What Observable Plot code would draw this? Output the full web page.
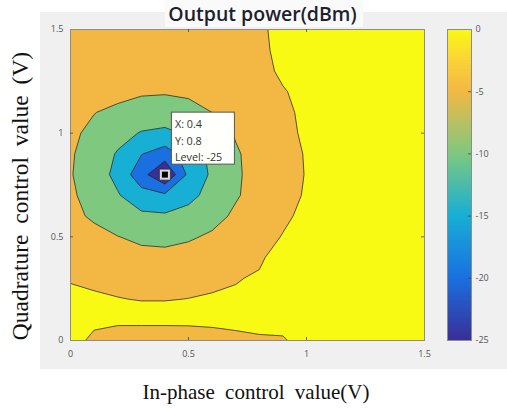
<!DOCTYPE html>
<html>
<head>
<meta charset="utf-8">
<script src="https://cdn.jsdelivr.net/npm/d3@7"></script>
<script src="https://cdn.jsdelivr.net/npm/@observablehq/plot@0.6"></script>
<style>
  html, body { margin: 0; padding: 0; background: #ffffff; }
  #fig { position: relative; width: 507px; height: 408px; overflow: hidden; background: #ffffff; }
  #bg { position: absolute; left: 40px; top: 12px; width: 467px; height: 357px; background: #f0f0f0; }
  #titlebox { position: absolute; left: 165px; top: 0px; width: 198px; height: 27px; background: #fafafa; }
  #title { position: absolute; left: 0; top: 0px; width: 525px; text-align: center; font-family: "Open Sans", sans-serif; font-weight: 600; font-size: 19.5px; color: #1d1f2e; }
  #xlabel { position: absolute; left: 0; top: 380px; width: 512px; text-align: center; font-family: "Liberation Serif", "Times New Roman", serif; font-size: 21px; word-spacing: 5px; color: #111; }
  #ylabel { position: absolute; left: 20px; top: 196px; transform: translate(-50%, -50%) rotate(-90deg); white-space: nowrap; font-family: "Liberation Serif", "Times New Roman", serif; font-size: 23.5px; word-spacing: 5px; color: #111; }
  #main, #cbar { position: absolute; top: 0; }
  #main { left: 0; }
  #cbar { left: 437px; }
</style>
</head>
<body>
<div id="fig">
  <div id="bg"></div>
  <div id="titlebox"></div>
  <div id="title">Output power(dBm)</div>
  <div id="main"></div>
  <div id="cbar"></div>
  <div id="xlabel">In-phase control value(V)</div>
  <div id="ylabel">Quadrature control value (V)</div>
</div>
<script>
// Grid coordinates (V): 0, 0.1, ..., 1.5 on both axes
const xs = [0, 0.1, 0.2, 0.3, 0.4, 0.5, 0.6, 0.7, 0.8, 0.9, 1.0, 1.1, 1.2, 1.3, 1.4, 1.5];
const ys = [0, 0.1, 0.2, 0.3, 0.4, 0.5, 0.6, 0.7, 0.8, 0.9, 1.0, 1.1, 1.2, 1.3, 1.4, 1.5];

// Output power (dBm), one row per quadrature value (bottom row first), columns = in-phase values
const power = [
  /* y=0.0 */ [ 1.2, -0.7, -1.8, -1.8, -1.8, -1.7, -1.2, -0.65, -0.29, -0.2, 0.8, 1, 1, 1, 1, 1],
  /* y=0.1 */ [ 0.7,  0.7,  0.7,  0.7,  0.7,  0.7,  0.7,  0.7,  0.7,  0.7, 1, 1, 1, 1, 1, 1],
  /* y=0.2 */ [ 0.3,  0.2,  0.05, -0.07, -0.07, 0.02, 0.15, 0.3, 0.5, 0.6, 1, 1, 1, 1, 1, 1],
  /* y=0.3 */ [-0.1, -0.3, -0.45, -0.6, -0.65, -0.55, -0.35, -0.13, 0.24, 0.6, 1, 1, 1, 1, 1, 1],
  /* y=0.4 */ [-1.0, -2.2, -3.1, -3.7, -3.8, -3.4, -2.7, -1.6, -0.33, 1, 1, 1, 1, 1, 1, 1],
  /* y=0.5 */ [-2.4, -3.8, -4.9, -5.9, -6.2, -5.5, -4.4, -3.1, -1.6, 0.2, 1, 1, 1, 1, 1, 1],
  /* y=0.6 */ [-4.0, -5.6, -7.4, -9.0, -9.3, -8.3, -6.4, -4.3, -2.6, -0.76, 1, 1, 1, 1, 1, 1],
  /* y=0.7 */ [-4.3, -6.8, -9.6, -13.1, -14.1, -11.4, -8.3, -5.4, -3.4, -1.5, 0.42, 1, 1, 1, 1, 1],
  /* y=0.8 */ [-4.7, -7.6, -11.3, -18.1, -25, -13.9, -9.2, -5.5, -3.7, -1.7, 0.2, 1, 1, 1, 1, 1],
  /* y=0.9 */ [-4.5, -7.3, -10.4, -14.8, -17.4, -12.8, -8.8, -5.4, -3.6, -1.6, 0.3, 1, 1, 1, 1, 1],
  /* y=1.0 */ [-4.3, -5.9, -8.4, -10.3, -11.0, -9.4, -7.2, -4.7, -3.0, -1.2, 0.7, 1, 1, 1, 1, 1],
  /* y=1.1 */ [-3.3, -4.9, -5.9, -7.2, -7.4, -6.6, -5.0, -3.6, -2.1, -0.6, 0.6, 1, 1, 1, 1, 1],
  /* y=1.2 */ [-2.0, -2.8, -3.8, -4.4, -4.6, -4.2, -3.4, -2.2, -1.6, -0.2, 0.8, 1, 1, 1, 1, 1],
  /* y=1.3 */ [-2.5, -2.6, -2.8, -3.0, -3.0, -2.8, -2.3, -1.7, -0.9, 0.5, 1, 1, 1, 1, 1, 1],
  /* y=1.4 */ [-2.3, -2.3, -2.4, -2.5, -2.5, -2.4, -2.0, -1.5, -0.5, 0.6, 1, 1, 1, 1, 1, 1],
  /* y=1.5 */ [-2.2, -2.2, -2.2, -2.3, -2.3, -2.2, -1.9, -1.4, -0.4, 0.7, 1, 1, 1, 1, 1, 1]
];

// Contour levels (dBm)
const levels = [-25, -20, -15, -10, -5, 0];

// Axis ticks
const axisTicks = [0, 0.5, 1, 1.5];
const innerTicks = [0.5, 1];
const cbarTicks = [0, -5, -10, -15, -20, -25];

// Data tip
const tip = [{x: 0.4, y: 0.8, level: -25}];

// Colormap (parula-like) stops
const colorStops = [-25, -20, -15, -10, -5, -2.5, 0];
const colorRange = ["#3a2e98", "#1a70e0", "#17afd4", "#7ec87f", "#f3b843", "#fbd336", "#f9fa13"];

const colorOpts = {type: "linear", domain: colorStops, range: colorRange, interpolate: "rgb"};
const step = (xs[1] - xs[0]);
const fmt = d => String(d);

const main = Plot.plot({
  width: 507,
  height: 408,
  marginLeft: 70,
  marginRight: 83,
  marginTop: 29,
  marginBottom: 68,
  style: {background: "transparent", fontFamily: "'Open Sans', sans-serif", fontSize: "9px", overflow: "visible"},
  x: {domain: [xs[0], xs[xs.length - 1]]},
  y: {domain: [ys[0], ys[ys.length - 1]]},
  color: colorOpts,
  marks: [
    Plot.contour(power.flat(), {
      width: xs.length,
      height: ys.length,
      x1: xs[0] - step / 2,
      x2: xs[xs.length - 1] + step / 2,
      y1: ys[0] - step / 2,
      y2: ys[ys.length - 1] + step / 2,
      fill: Plot.identity,
      thresholds: levels,
      stroke: "#262626",
      strokeWidth: 0.9,
      strokeOpacity: 0.85,
      clip: true
    }),
    Plot.frame({stroke: "#8c8c8c", strokeWidth: 1}),
    Plot.tickX(innerTicks, {x: d => d, insetTop: 308, stroke: "#444", strokeWidth: 0.8}),
    Plot.tickX(innerTicks, {x: d => d, insetBottom: 308, stroke: "#444", strokeWidth: 0.8}),
    Plot.tickY(innerTicks, {y: d => d, insetRight: 351, stroke: "#444", strokeWidth: 0.8}),
    Plot.tickY(innerTicks, {y: d => d, insetLeft: 351, stroke: "#444", strokeWidth: 0.8}),
    Plot.axisX(axisTicks, {tickSize: 0, tickPadding: 10, tickFormat: fmt, fill: "#555", label: null}),
    Plot.axisY(axisTicks, {tickSize: 0, tickPadding: 7, tickFormat: fmt, fill: "#555", label: null}),
    Plot.dot(tip, {x: "x", y: "y", symbol: "square", r: 6.2, fill: "#d9d9d9", stroke: "#333", strokeWidth: 0.8}),
    Plot.dot(tip, {x: "x", y: "y", symbol: "square", r: 3.4, fill: "#000"}),
    (index, scales) => {
      const d = tip[0];
      const px = scales.x(d.x), py = scales.y(d.y);
      const g = d3.create("svg:g");
      g.append("rect")
        .attr("x", px + 7).attr("y", py - 62)
        .attr("width", 63).attr("height", 52)
        .attr("fill", "#fffffb").attr("stroke", "#555").attr("stroke-width", 1);
      const lines = [`X: ${d.x}`, `Y: ${d.y}`, `Level: ${d.level}`];
      lines.forEach((t, i) => {
        g.append("text")
          .attr("x", px + 10.5).attr("y", py - 46 + i * 16.5)
          .attr("text-anchor", "start")
          .attr("font-family", "'Open Sans', sans-serif")
          .attr("font-size", 10.8).attr("fill", "#333")
          .text(t);
      });
      return g.node();
    }
  ]
});
document.getElementById("main").appendChild(main);

// Colorbar
const cbStep = 0.125;
const cbSteps = d3.range(colorStops[0], 0, cbStep);
const cbar = Plot.plot({
  width: 70,
  height: 408,
  marginLeft: 10,
  marginRight: 36,
  marginTop: 29,
  marginBottom: 68,
  style: {background: "transparent", fontFamily: "'Open Sans', sans-serif", fontSize: "9px", overflow: "visible"},
  x: {domain: [0, 1], axis: null},
  y: {domain: [cbarTicks[cbarTicks.length - 1], cbarTicks[0]], axis: null},
  color: colorOpts,
  marks: [
    Plot.rect(cbSteps, {x1: 0, x2: 1, y1: d => d, y2: d => Math.min(0, d + cbStep * 1.6), fill: d => d + cbStep / 2, shapeRendering: "crispEdges"}),
    Plot.frame({stroke: "#8c8c8c"}),
    Plot.tickY(cbarTicks.slice(1, -1), {y: d => d, insetLeft: 21, stroke: "#444", strokeWidth: 0.8}),
    Plot.axisY(cbarTicks, {anchor: "right", tickSize: 0, tickPadding: 4, tickFormat: fmt, fill: "#555", label: null})
  ]
});
document.getElementById("cbar").appendChild(cbar);
</script>
</body>
</html>
